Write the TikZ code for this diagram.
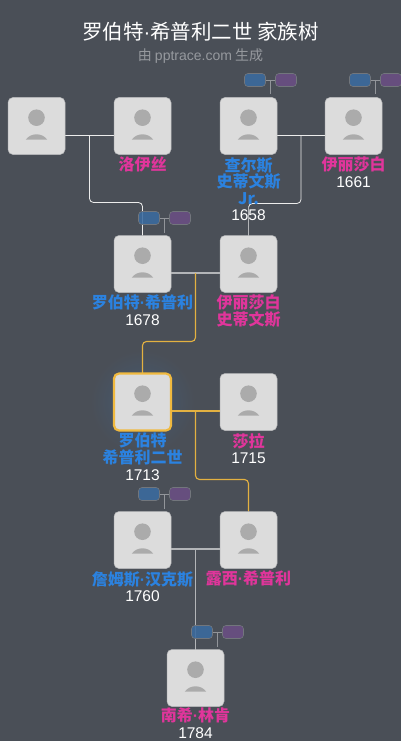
\documentclass[tikz,border=0pt]{standalone}
\usepackage{fontspec}
\setmainfont{Noto Sans CJK SC}
\newfontfamily\yr{Liberation Sans}
\usetikzlibrary{positioning,calc,backgrounds}
\definecolor{bgc}{HTML}{4A4F57}
\definecolor{cardc}{HTML}{DCDCDC}
\definecolor{iconc}{HTML}{ABABAB}
\definecolor{mc}{HTML}{2B82E0}
\definecolor{fc}{HTML}{E0359B}
\definecolor{yc}{HTML}{F0B93F}
\definecolor{tagb}{HTML}{3B6B9F}
\definecolor{tagp}{HTML}{6A4E84}
\tikzset{p/.style={draw=cardc!75!bgc,line width=.5pt,rounded corners=5pt,fill=cardc,minimum size=57pt,inner sep=0pt,outer sep=0pt,
  path picture={\fill[iconc]([yshift=8.3pt]path picture bounding box.center) circle(8.3pt);
   \fill[iconc,sharp corners]([xshift=-10.7pt,yshift=-13.7pt]path picture bounding box.center) .. controls ([xshift=-6pt,yshift=-6.5pt]path picture bounding box.center) and ([xshift=6pt,yshift=-6.5pt]path picture bounding box.center) .. ([xshift=10.7pt,yshift=-13.7pt]path picture bounding box.center)--cycle;}},
 hl/.style={draw=yc,line width=2.2pt},
 lb/.style={align=center,inner sep=0pt,text=white,font=\fontsize{16}{16.6}\selectfont},
 bt/.style={draw=white!22!bgc,line width=.6pt,rounded corners=3.5pt,minimum width=21pt,minimum height=13pt,inner sep=0pt,fill opacity=.88},
 tk/.style={line width=.6pt,draw=white!40!bgc},
 lw/.style={line width=.8pt,draw=white!85!gray},
 lg/.style={line width=1.3pt,draw=white!58!bgc},
 ly/.style={line width=1.1pt,draw=yc!92!bgc}}
\newcommand{\mn}[1]{\textcolor{mc}{\bfseries #1}}
\newcommand{\fn}[1]{\textcolor{fc}{\bfseries #1}}
\newcommand{\by}[1]{{\yr\fontsize{15.5}{16.6}\selectfont #1}}
\newcommand{\tags}[1]{\node[bt,fill=tagb](#1b) at ([xshift=6.5pt,yshift=17.5pt]#1.north){};\node[bt,fill=tagp](#1v) at ([xshift=37.5pt,yshift=17.5pt]#1.north){};
 \coordinate(#1s) at ([xshift=22pt,yshift=3pt]#1.north);\draw[tk](#1b)--(#1v);\draw[tk]($(#1b)!.5!(#1v)$)--(#1s);}
\begin{document}
\begin{tikzpicture}[x=1pt,y=-1pt]
\useasboundingbox (0,0) rectangle (401,741);
\begin{scope}[on background layer]\fill[bgc](0,0) rectangle (401,741);\end{scope}
\node[text=white,font=\fontsize{20.5}{24}\selectfont](t) at (200.5,32){罗伯特{\yr ·}希普利二世 家族树};
\node[text=white!42!bgc,font=\fontsize{14}{16}\selectfont,below=0pt of t](u){由 {\yr pptrace.com} 生成};
% cards
\node[p](a) at (36.5,126){};\node[p,right=49pt of a](b){};\node[p,right=49pt of b](c){};\node[p,right=48pt of c](d){};
\node[p,below=81pt of b](e){};\node[p,right=49pt of e](f){};
\node[p,hl,below=81pt of e](g){};\node[p,right=49pt of g](h){};
\node[p,below=81pt of g](i){};\node[p,right=49pt of i](j){};
\node[p,below=81pt of i,xshift=53pt](k){};
% names
\node[lb,below=2.5pt of b]{\fn{洛伊丝}};
\node[lb,below=2.5pt of c](cl){\mn{查尔斯}\\\mn{史蒂文斯}\\\mn{Jr.}\\\by{1658}};
\node[lb,below=2.5pt of d]{\fn{伊丽莎白}\\\by{1661}};
\node[lb,below=2.5pt of e]{\mn{罗伯特{\yr ·}希普利}\\\by{1678}};
\node[lb,below=2.5pt of f]{\fn{伊丽莎白}\\\fn{史蒂文斯}};
\node[lb,below=2.5pt of g]{\mn{罗伯特}\\\mn{希普利二世}\\\by{1713}};
\node[lb,below=2.5pt of h]{\fn{莎拉}\\\by{1715}};
\node[lb,below=2.5pt of i]{\mn{詹姆斯{\yr ·}汉克斯}\\\by{1760}};
\node[lb,below=2.5pt of j]{\fn{露西{\yr ·}希普利}};
\node[lb,below=1.5pt of k]{\fn{南希{\yr ·}林肯}\\\by{1784}};
% links
\coordinate(m1) at ($(a.east)!.5!(b.west)+(0,9)$);\coordinate(m2) at ($(c.east)!.5!(d.west)+(0,9)$);
\coordinate(m3) at ($(e.east)!.5!(f.west)+(0,9)$);\coordinate(m4) at ($(g.east)!.5!(h.west)+(0,9)$);
\coordinate(m5) at ($(i.east)!.5!(j.west)+(0,9)$);
\begin{scope}[on background layer]
\shade[inner color=tagb!38!bgc,outer color=bgc](g) circle(52pt);
\draw[lw]([yshift=-9pt]a.east)--([yshift=-9pt]b.west);\draw[lw]([yshift=-9pt]c.east)--([yshift=-9pt]d.west);
\draw[lw,rounded corners=4pt](m1)|-([yshift=33pt]e.north)--(e.north);
\draw[lw,rounded corners=4pt](m2)|-([yshift=32pt]f.north)--(f.north);
\draw[lg]([yshift=30pt]f.north)--(f.north);
\draw[lg]([yshift=-9pt]e.east)--([yshift=-9pt]f.west);
\draw[ly,rounded corners=4pt](m3)|-([yshift=32pt]g.north)--(g.north);
\draw[ly]([yshift=-9pt]g.east)--([yshift=-9pt]h.west);
\draw[ly,rounded corners=4pt](m4)|-([yshift=32pt]j.north)--(j.north);
\draw[lg]([yshift=-9pt]i.east)--([yshift=-9pt]j.west);
\draw[lg](m5)--(m5|-k.north);
\end{scope}
\tags{c}\tags{d}\tags{e}\tags{i}\tags{k}
\end{tikzpicture}
\end{document}
